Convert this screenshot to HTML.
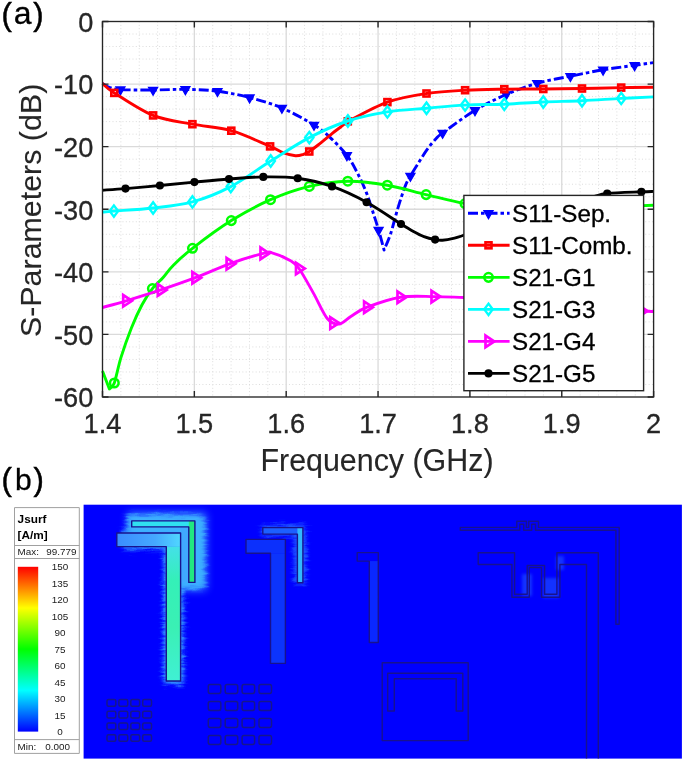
<!DOCTYPE html><html><head><meta charset="utf-8"><title>S-Parameters</title><style>html,body{margin:0;padding:0;background:#fff;width:685px;height:763px;overflow:hidden}svg{display:block;font-family:"Liberation Sans",sans-serif;filter:blur(0.45px)}</style></head><body><svg width="685" height="763" viewBox="0 0 685 763"><g stroke="#dcdcdc" stroke-width="1" stroke-dasharray="1 2.33" fill="none"><line x1="120.87" y1="21.5" x2="120.87" y2="397"/><line x1="139.24" y1="21.5" x2="139.24" y2="397"/><line x1="157.61" y1="21.5" x2="157.61" y2="397"/><line x1="175.98" y1="21.5" x2="175.98" y2="397"/><line x1="212.72" y1="21.5" x2="212.72" y2="397"/><line x1="231.09" y1="21.5" x2="231.09" y2="397"/><line x1="249.46" y1="21.5" x2="249.46" y2="397"/><line x1="267.83" y1="21.5" x2="267.83" y2="397"/><line x1="304.57" y1="21.5" x2="304.57" y2="397"/><line x1="322.94" y1="21.5" x2="322.94" y2="397"/><line x1="341.31" y1="21.5" x2="341.31" y2="397"/><line x1="359.68" y1="21.5" x2="359.68" y2="397"/><line x1="396.42" y1="21.5" x2="396.42" y2="397"/><line x1="414.79" y1="21.5" x2="414.79" y2="397"/><line x1="433.16" y1="21.5" x2="433.16" y2="397"/><line x1="451.53" y1="21.5" x2="451.53" y2="397"/><line x1="488.27" y1="21.5" x2="488.27" y2="397"/><line x1="506.64" y1="21.5" x2="506.64" y2="397"/><line x1="525.01" y1="21.5" x2="525.01" y2="397"/><line x1="543.38" y1="21.5" x2="543.38" y2="397"/><line x1="580.12" y1="21.5" x2="580.12" y2="397"/><line x1="598.49" y1="21.5" x2="598.49" y2="397"/><line x1="616.86" y1="21.5" x2="616.86" y2="397"/><line x1="635.23" y1="21.5" x2="635.23" y2="397"/><line x1="102.5" y1="34.02" x2="653.6" y2="34.02"/><line x1="102.5" y1="46.53" x2="653.6" y2="46.53"/><line x1="102.5" y1="59.05" x2="653.6" y2="59.05"/><line x1="102.5" y1="71.57" x2="653.6" y2="71.57"/><line x1="102.5" y1="96.6" x2="653.6" y2="96.6"/><line x1="102.5" y1="109.12" x2="653.6" y2="109.12"/><line x1="102.5" y1="121.63" x2="653.6" y2="121.63"/><line x1="102.5" y1="134.15" x2="653.6" y2="134.15"/><line x1="102.5" y1="159.18" x2="653.6" y2="159.18"/><line x1="102.5" y1="171.7" x2="653.6" y2="171.7"/><line x1="102.5" y1="184.22" x2="653.6" y2="184.22"/><line x1="102.5" y1="196.73" x2="653.6" y2="196.73"/><line x1="102.5" y1="221.77" x2="653.6" y2="221.77"/><line x1="102.5" y1="234.28" x2="653.6" y2="234.28"/><line x1="102.5" y1="246.8" x2="653.6" y2="246.8"/><line x1="102.5" y1="259.32" x2="653.6" y2="259.32"/><line x1="102.5" y1="284.35" x2="653.6" y2="284.35"/><line x1="102.5" y1="296.87" x2="653.6" y2="296.87"/><line x1="102.5" y1="309.38" x2="653.6" y2="309.38"/><line x1="102.5" y1="321.9" x2="653.6" y2="321.9"/><line x1="102.5" y1="346.93" x2="653.6" y2="346.93"/><line x1="102.5" y1="359.45" x2="653.6" y2="359.45"/><line x1="102.5" y1="371.97" x2="653.6" y2="371.97"/><line x1="102.5" y1="384.48" x2="653.6" y2="384.48"/></g><g stroke="#dadada" stroke-width="1.3" fill="none"><line x1="194.35" y1="21.5" x2="194.35" y2="397"/><line x1="102.5" y1="84.08" x2="653.6" y2="84.08"/><line x1="286.2" y1="21.5" x2="286.2" y2="397"/><line x1="102.5" y1="146.67" x2="653.6" y2="146.67"/><line x1="378.05" y1="21.5" x2="378.05" y2="397"/><line x1="102.5" y1="209.25" x2="653.6" y2="209.25"/><line x1="469.9" y1="21.5" x2="469.9" y2="397"/><line x1="102.5" y1="271.83" x2="653.6" y2="271.83"/><line x1="561.75" y1="21.5" x2="561.75" y2="397"/><line x1="102.5" y1="334.42" x2="653.6" y2="334.42"/></g><path d="M102.5,83.6 C103.75,84.25 107.02,86.5 110,87.5 C112.98,88.5 113.22,89.18 120.4,89.6 C127.58,90.02 142.27,90.03 153.1,90 C163.93,89.97 174.67,89.2 185.4,89.4 C196.13,89.6 206.8,89.83 217.5,91.2 C228.2,92.57 238.87,94.8 249.6,97.6 C260.33,100.4 271.17,103.43 281.9,108 C292.63,112.57 305.98,120.1 314,125 C322.02,129.9 324.52,132.35 330,137.4 C335.48,142.45 342.32,149.33 346.9,155.3 C351.48,161.27 354.2,166.85 357.5,173.2 C360.8,179.55 363.95,186.37 366.7,193.4 C369.45,200.43 372.02,209.28 374,215.4 C375.98,221.52 376.92,224.33 378.6,230.1 C380.28,235.87 383.18,246.68 384.1,250 L384.1,250 C385.18,247.3 388.3,240.78 390.6,233.8 C392.9,226.82 395.47,216.05 397.9,208.1 C400.33,200.15 403.12,191.45 405.2,186.1 C407.28,180.75 408.25,179.77 410.4,176 C412.55,172.23 415.3,167.93 418.1,163.5 C420.9,159.07 424.15,153.6 427.2,149.4 C430.25,145.2 433.83,141.03 436.4,138.3 C438.97,135.57 436.17,137.67 442.6,133 C449.03,128.33 464.4,116.72 475,110.3 C485.6,103.88 495.83,99.02 506.2,94.5 C516.57,89.98 526.5,86.25 537.2,83.2 C547.9,80.15 559.42,78.43 570.4,76.2 C581.38,73.97 592.4,71.62 603.1,69.8 C613.8,67.98 626.18,66.5 634.6,65.3 C643.02,64.1 650.43,63.05 653.6,62.6" fill="none" stroke="#0000ff" stroke-width="2.9" stroke-linejoin="round" stroke-dasharray="10 3 3.5 3"/><path d="M115.8,86.9 L125,86.9 L120.4,95 Z" fill="#0000ff" stroke="#0000ff" stroke-width="1.2" stroke-linejoin="miter"/><path d="M148.5,87.3 L157.7,87.3 L153.1,95.4 Z" fill="#0000ff" stroke="#0000ff" stroke-width="1.2" stroke-linejoin="miter"/><path d="M180.8,86.7 L190,86.7 L185.4,94.8 Z" fill="#0000ff" stroke="#0000ff" stroke-width="1.2" stroke-linejoin="miter"/><path d="M212.9,88.5 L222.1,88.5 L217.5,96.6 Z" fill="#0000ff" stroke="#0000ff" stroke-width="1.2" stroke-linejoin="miter"/><path d="M245,94.9 L254.2,94.9 L249.6,103 Z" fill="#0000ff" stroke="#0000ff" stroke-width="1.2" stroke-linejoin="miter"/><path d="M277.3,105.3 L286.5,105.3 L281.9,113.4 Z" fill="#0000ff" stroke="#0000ff" stroke-width="1.2" stroke-linejoin="miter"/><path d="M309.4,122.3 L318.6,122.3 L314,130.4 Z" fill="#0000ff" stroke="#0000ff" stroke-width="1.2" stroke-linejoin="miter"/><path d="M342.3,152.6 L351.5,152.6 L346.9,160.7 Z" fill="#0000ff" stroke="#0000ff" stroke-width="1.2" stroke-linejoin="miter"/><path d="M374,227.4 L383.2,227.4 L378.6,235.5 Z" fill="#0000ff" stroke="#0000ff" stroke-width="1.2" stroke-linejoin="miter"/><path d="M405.8,173.3 L415,173.3 L410.4,181.4 Z" fill="#0000ff" stroke="#0000ff" stroke-width="1.2" stroke-linejoin="miter"/><path d="M438,130.3 L447.2,130.3 L442.6,138.4 Z" fill="#0000ff" stroke="#0000ff" stroke-width="1.2" stroke-linejoin="miter"/><path d="M470.4,107.6 L479.6,107.6 L475,115.7 Z" fill="#0000ff" stroke="#0000ff" stroke-width="1.2" stroke-linejoin="miter"/><path d="M501.6,91.8 L510.8,91.8 L506.2,99.9 Z" fill="#0000ff" stroke="#0000ff" stroke-width="1.2" stroke-linejoin="miter"/><path d="M532.6,80.5 L541.8,80.5 L537.2,88.6 Z" fill="#0000ff" stroke="#0000ff" stroke-width="1.2" stroke-linejoin="miter"/><path d="M565.8,73.5 L575,73.5 L570.4,81.6 Z" fill="#0000ff" stroke="#0000ff" stroke-width="1.2" stroke-linejoin="miter"/><path d="M598.5,67.1 L607.7,67.1 L603.1,75.2 Z" fill="#0000ff" stroke="#0000ff" stroke-width="1.2" stroke-linejoin="miter"/><path d="M630,62.6 L639.2,62.6 L634.6,70.7 Z" fill="#0000ff" stroke="#0000ff" stroke-width="1.2" stroke-linejoin="miter"/><path d="M102.5,83.5 C104.47,85.07 105.87,87.58 114.3,92.9 C122.73,98.22 140.08,110.18 153.1,115.4 C166.12,120.62 179.37,121.65 192.4,124.2 C205.43,126.75 218.35,127 231.3,130.7 C244.25,134.4 261.48,142.75 270.1,146.4 C278.72,150.05 278.78,151.05 283,152.6 C287.22,154.15 291.98,155.42 295.4,155.7 C298.82,155.98 301.18,155 303.5,154.3 C305.82,153.6 306.87,153.05 309.3,151.5 C311.73,149.95 314.82,147.55 318.1,145 C321.38,142.45 326.02,138.62 329,136.2 C331.98,133.78 333.75,132.27 336,130.5 C338.25,128.73 340.53,127.08 342.5,125.6 C344.47,124.12 340.32,125.52 347.8,121.6 C355.28,117.68 374.28,106.78 387.4,102.1 C400.52,97.42 413.55,95.48 426.5,93.5 C439.45,91.52 452.13,90.92 465.1,90.2 C478.07,89.48 491.27,89.4 504.3,89.2 C517.33,89 530.35,89.12 543.3,89 C556.25,88.88 569.02,88.73 582,88.5 C594.98,88.27 609.27,87.8 621.2,87.6 C633.13,87.4 648.2,87.35 653.6,87.3" fill="none" stroke="#ff0000" stroke-width="2.9" stroke-linejoin="round"/><rect x="111.3" y="89.9" width="6" height="6" fill="none" stroke="#ff0000" stroke-width="2.6"/><rect x="150.1" y="112.4" width="6" height="6" fill="none" stroke="#ff0000" stroke-width="2.6"/><rect x="189.4" y="121.2" width="6" height="6" fill="none" stroke="#ff0000" stroke-width="2.6"/><rect x="228.3" y="127.7" width="6" height="6" fill="none" stroke="#ff0000" stroke-width="2.6"/><rect x="267.1" y="143.4" width="6" height="6" fill="none" stroke="#ff0000" stroke-width="2.6"/><rect x="306.3" y="148.5" width="6" height="6" fill="none" stroke="#ff0000" stroke-width="2.6"/><rect x="344.8" y="118.3" width="6" height="6" fill="none" stroke="#ff0000" stroke-width="2.6"/><rect x="384.4" y="99.1" width="6" height="6" fill="none" stroke="#ff0000" stroke-width="2.6"/><rect x="423.5" y="90.5" width="6" height="6" fill="none" stroke="#ff0000" stroke-width="2.6"/><rect x="462.1" y="87.2" width="6" height="6" fill="none" stroke="#ff0000" stroke-width="2.6"/><rect x="501.3" y="86.2" width="6" height="6" fill="none" stroke="#ff0000" stroke-width="2.6"/><rect x="540.3" y="86" width="6" height="6" fill="none" stroke="#ff0000" stroke-width="2.6"/><rect x="579" y="85.5" width="6" height="6" fill="none" stroke="#ff0000" stroke-width="2.6"/><rect x="618.2" y="84.6" width="6" height="6" fill="none" stroke="#ff0000" stroke-width="2.6"/><path d="M102.5,371 C103.65,374 108.25,386 109.4,389 L109.4,389 C110.22,388 112.37,388.27 114.3,383 C116.23,377.73 118.15,366.57 121,357.4 C123.85,348.23 127.92,336.73 131.4,328 C134.88,319.27 138.4,311.57 141.9,305 C145.4,298.43 148.9,293.15 152.4,288.6 C155.9,284.05 159.4,281.6 162.9,277.7 C166.4,273.8 168.47,270.1 173.4,265.2 C178.33,260.3 182.85,255.73 192.5,248.3 C202.15,240.87 218.3,228.7 231.3,220.6 C244.3,212.5 257.5,205.4 270.5,199.7 C283.5,194 296.42,189.48 309.3,186.4 C322.18,183.32 334.8,181.4 347.8,181.2 C360.8,181 374.25,182.97 387.3,185.2 C400.35,187.43 413.15,191.53 426.1,194.6 C439.05,197.67 452.02,201.37 465,203.6 C477.98,205.83 491,207.1 504,208 C517,208.9 530,209 543,209 C556,209 569,208.42 582,208 C595,207.58 609.07,206.95 621,206.5 C632.93,206.05 648.17,205.5 653.6,205.3" fill="none" stroke="#00ff00" stroke-width="2.9" stroke-linejoin="round"/><circle cx="114.3" cy="383" r="4.3" fill="none" stroke="#00ff00" stroke-width="2.5"/><circle cx="152.4" cy="288.6" r="4.3" fill="none" stroke="#00ff00" stroke-width="2.5"/><circle cx="192.5" cy="248.3" r="4.3" fill="none" stroke="#00ff00" stroke-width="2.5"/><circle cx="231.3" cy="220.6" r="4.3" fill="none" stroke="#00ff00" stroke-width="2.5"/><circle cx="270.5" cy="199.7" r="4.3" fill="none" stroke="#00ff00" stroke-width="2.5"/><circle cx="309.3" cy="186.4" r="4.3" fill="none" stroke="#00ff00" stroke-width="2.5"/><circle cx="347.8" cy="181.2" r="4.3" fill="none" stroke="#00ff00" stroke-width="2.5"/><circle cx="387.3" cy="185.2" r="4.3" fill="none" stroke="#00ff00" stroke-width="2.5"/><circle cx="426.1" cy="194.6" r="4.3" fill="none" stroke="#00ff00" stroke-width="2.5"/><circle cx="465" cy="203.6" r="4.3" fill="none" stroke="#00ff00" stroke-width="2.5"/><circle cx="621" cy="206.5" r="4.3" fill="none" stroke="#00ff00" stroke-width="2.5"/><path d="M102.5,212.1 C104.4,211.93 105.47,211.78 113.9,211.1 C122.33,210.42 140.02,209.53 153.1,208 C166.18,206.47 179.45,205.47 192.4,201.9 C205.35,198.33 217.75,193.42 230.8,186.6 C243.85,179.78 257.62,169.17 270.7,161 C283.78,152.83 296.43,144.27 309.3,137.6 C322.17,130.93 334.88,125.28 347.9,121 C360.92,116.72 374.3,114.03 387.4,111.9 C400.5,109.77 413.55,109.33 426.5,108.2 C439.45,107.07 452.13,105.77 465.1,105.1 C478.07,104.43 491.27,104.72 504.3,104.2 C517.33,103.68 530.35,102.58 543.3,102 C556.25,101.42 569.02,101.3 582,100.7 C594.98,100.1 609.27,99.03 621.2,98.4 C633.13,97.77 648.2,97.15 653.6,96.9" fill="none" stroke="#00ffff" stroke-width="2.9" stroke-linejoin="round"/><path d="M113.9,205.4 L118.1,211.1 L113.9,216.8 L109.7,211.1 Z" fill="none" stroke="#00ffff" stroke-width="2.4"/><path d="M153.1,202.3 L157.3,208 L153.1,213.7 L148.9,208 Z" fill="none" stroke="#00ffff" stroke-width="2.4"/><path d="M192.4,196.2 L196.6,201.9 L192.4,207.6 L188.2,201.9 Z" fill="none" stroke="#00ffff" stroke-width="2.4"/><path d="M230.8,180.9 L235,186.6 L230.8,192.3 L226.6,186.6 Z" fill="none" stroke="#00ffff" stroke-width="2.4"/><path d="M270.7,155.3 L274.9,161 L270.7,166.7 L266.5,161 Z" fill="none" stroke="#00ffff" stroke-width="2.4"/><path d="M309.3,131.9 L313.5,137.6 L309.3,143.3 L305.1,137.6 Z" fill="none" stroke="#00ffff" stroke-width="2.4"/><path d="M347.9,115.3 L352.1,121 L347.9,126.7 L343.7,121 Z" fill="none" stroke="#00ffff" stroke-width="2.4"/><path d="M387.4,106.2 L391.6,111.9 L387.4,117.6 L383.2,111.9 Z" fill="none" stroke="#00ffff" stroke-width="2.4"/><path d="M426.5,102.5 L430.7,108.2 L426.5,113.9 L422.3,108.2 Z" fill="none" stroke="#00ffff" stroke-width="2.4"/><path d="M465.1,99.4 L469.3,105.1 L465.1,110.8 L460.9,105.1 Z" fill="none" stroke="#00ffff" stroke-width="2.4"/><path d="M504.3,98.5 L508.5,104.2 L504.3,109.9 L500.1,104.2 Z" fill="none" stroke="#00ffff" stroke-width="2.4"/><path d="M543.3,96.3 L547.5,102 L543.3,107.7 L539.1,102 Z" fill="none" stroke="#00ffff" stroke-width="2.4"/><path d="M582,95 L586.2,100.7 L582,106.4 L577.8,100.7 Z" fill="none" stroke="#00ffff" stroke-width="2.4"/><path d="M621.2,92.7 L625.4,98.4 L621.2,104.1 L617,98.4 Z" fill="none" stroke="#00ffff" stroke-width="2.4"/><path d="M102.5,307.5 C106.45,306.38 116.48,303.73 126.2,300.8 C135.92,297.87 149.27,293.75 160.8,289.9 C172.33,286.05 183.93,282.05 195.4,277.7 C206.87,273.35 218.25,267.85 229.6,263.8 C240.95,259.75 256.43,255.23 263.5,253.4 C270.57,251.57 267.57,251.63 272,252.8 C276.43,253.97 285.6,257.78 290.1,260.4 C294.6,263.02 295.12,263.05 299,268.5 C302.88,273.95 308.65,284.72 313.4,293.1 C318.15,301.48 323.22,313.65 327.5,318.8 C331.78,323.95 335.22,324.4 339.1,324 C342.98,323.6 346.13,319.2 350.8,316.4 C355.47,313.6 358.82,310.4 367.1,307.2 C375.38,304 389.27,298.97 400.5,297.2 C411.73,295.43 424.02,296.55 434.5,296.6 C444.98,296.65 451.98,297.1 463.4,297.5 C474.82,297.9 490.57,298.42 503,299 C515.43,299.58 526.33,300.17 538,301 C549.67,301.83 561.5,302.83 573,304 C584.5,305.17 595.55,306.83 607,308 C618.45,309.17 633.93,310.42 641.7,311 C649.47,311.58 651.62,311.42 653.6,311.5" fill="none" stroke="#ff00ff" stroke-width="2.9" stroke-linejoin="round"/><path d="M123.2,295 L123.2,306.6 L132,300.8 Z" fill="none" stroke="#ff00ff" stroke-width="2.7" stroke-linejoin="miter"/><path d="M157.8,284.1 L157.8,295.7 L166.6,289.9 Z" fill="none" stroke="#ff00ff" stroke-width="2.7" stroke-linejoin="miter"/><path d="M192.4,271.9 L192.4,283.5 L201.2,277.7 Z" fill="none" stroke="#ff00ff" stroke-width="2.7" stroke-linejoin="miter"/><path d="M226.6,258 L226.6,269.6 L235.4,263.8 Z" fill="none" stroke="#ff00ff" stroke-width="2.7" stroke-linejoin="miter"/><path d="M260.5,247.6 L260.5,259.2 L269.3,253.4 Z" fill="none" stroke="#ff00ff" stroke-width="2.7" stroke-linejoin="miter"/><path d="M296,262.7 L296,274.3 L304.8,268.5 Z" fill="none" stroke="#ff00ff" stroke-width="2.7" stroke-linejoin="miter"/><path d="M330.3,317.2 L330.3,328.8 L339.1,323 Z" fill="none" stroke="#ff00ff" stroke-width="2.7" stroke-linejoin="miter"/><path d="M364.1,301.4 L364.1,313 L372.9,307.2 Z" fill="none" stroke="#ff00ff" stroke-width="2.7" stroke-linejoin="miter"/><path d="M397.5,291.4 L397.5,303 L406.3,297.2 Z" fill="none" stroke="#ff00ff" stroke-width="2.7" stroke-linejoin="miter"/><path d="M431.5,290.8 L431.5,302.4 L440.3,296.6 Z" fill="none" stroke="#ff00ff" stroke-width="2.7" stroke-linejoin="miter"/><path d="M638.7,305.2 L638.7,316.8 L647.5,311 Z" fill="none" stroke="#ff00ff" stroke-width="2.7" stroke-linejoin="miter"/><path d="M102.5,190.2 C106.33,189.93 115.93,189.38 125.5,188.6 C135.07,187.82 148.42,186.58 159.9,185.5 C171.38,184.42 182.88,183.18 194.4,182.1 C205.92,181.02 217.52,179.87 229,179 C240.48,178.13 251.85,177.03 263.3,176.9 C274.75,176.77 286.25,176.62 297.7,178.2 C309.15,179.78 320.52,182.4 332,186.4 C343.48,190.4 355.1,195.93 366.6,202.2 C378.1,208.47 393.27,219.17 401,224 C408.73,228.83 409.17,229.1 413,231.2 C416.83,233.3 420.32,235.2 424,236.6 C427.68,238 432.03,239 435.1,239.6 C438.17,240.2 439.35,240.4 442.4,240.2 C445.45,240 449.77,239.27 453.4,238.4 C457.03,237.53 459.77,236.57 464.2,235 C468.63,233.43 473.37,231.5 480,229 C486.63,226.5 494.33,223.5 504,220 C513.67,216.5 526.53,211.25 538,208 C549.47,204.75 563.8,202.33 572.8,200.5 C581.8,198.67 586.27,198.17 592,197 C597.73,195.83 598.97,194.37 607.2,193.5 C615.43,192.63 633.67,192.15 641.4,191.8 C649.13,191.45 651.57,191.47 653.6,191.4" fill="none" stroke="#000000" stroke-width="2.9" stroke-linejoin="round"/><circle cx="125.5" cy="188.6" r="4.05" fill="#000000"/><circle cx="159.9" cy="185.5" r="4.05" fill="#000000"/><circle cx="194.4" cy="182.1" r="4.05" fill="#000000"/><circle cx="229" cy="179" r="4.05" fill="#000000"/><circle cx="263.3" cy="176.9" r="4.05" fill="#000000"/><circle cx="297.7" cy="178.2" r="4.05" fill="#000000"/><circle cx="332" cy="186.4" r="4.05" fill="#000000"/><circle cx="366.6" cy="202.2" r="4.05" fill="#000000"/><circle cx="401" cy="224" r="4.05" fill="#000000"/><circle cx="435.1" cy="239.6" r="4.05" fill="#000000"/><circle cx="607.2" cy="193.5" r="4.05" fill="#000000"/><circle cx="641.4" cy="191.8" r="4.05" fill="#000000"/><path d="M102.5,397V391M102.5,21.5V27.5M102.5,21.5H108.5M653.6,21.5H647.6M194.35,397V391M194.35,21.5V27.5M102.5,84.08H108.5M653.6,84.08H647.6M286.2,397V391M286.2,21.5V27.5M102.5,146.67H108.5M653.6,146.67H647.6M378.05,397V391M378.05,21.5V27.5M102.5,209.25H108.5M653.6,209.25H647.6M469.9,397V391M469.9,21.5V27.5M102.5,271.83H108.5M653.6,271.83H647.6M561.75,397V391M561.75,21.5V27.5M102.5,334.42H108.5M653.6,334.42H647.6M653.6,397V391M653.6,21.5V27.5M102.5,397H108.5M653.6,397H647.6" stroke="#262626" stroke-width="1.4" fill="none"/><rect x="102.5" y="21.5" width="551.1" height="375.5" fill="none" stroke="#262626" stroke-width="1.35"/><g font-family="Liberation Sans, sans-serif" font-size="27.2" fill="#262626" stroke="#262626" stroke-width="0.3"><text transform="translate(93.3,31.8) scale(1,1.04)" text-anchor="end">0</text><text transform="translate(93.3,94.38) scale(1,1.04)" text-anchor="end">-10</text><text transform="translate(93.3,156.97) scale(1,1.04)" text-anchor="end">-20</text><text transform="translate(93.3,219.55) scale(1,1.04)" text-anchor="end">-30</text><text transform="translate(93.3,282.13) scale(1,1.04)" text-anchor="end">-40</text><text transform="translate(93.3,344.72) scale(1,1.04)" text-anchor="end">-50</text><text transform="translate(93.3,407.3) scale(1,1.04)" text-anchor="end">-60</text><text transform="translate(102.5,432.6) scale(1,1.04)" text-anchor="middle">1.4</text><text transform="translate(194.35,432.6) scale(1,1.04)" text-anchor="middle">1.5</text><text transform="translate(286.2,432.6) scale(1,1.04)" text-anchor="middle">1.6</text><text transform="translate(378.05,432.6) scale(1,1.04)" text-anchor="middle">1.7</text><text transform="translate(469.9,432.6) scale(1,1.04)" text-anchor="middle">1.8</text><text transform="translate(561.75,432.6) scale(1,1.04)" text-anchor="middle">1.9</text><text transform="translate(653.6,432.6) scale(1,1.04)" text-anchor="middle">2</text></g><text transform="translate(377,470.6) scale(1,1.04)" text-anchor="middle" font-family="Liberation Sans, sans-serif" font-size="30.4" fill="#262626" stroke="#262626" stroke-width="0.12">Frequency (GHz)</text><text transform="translate(41.4,210.4) rotate(-90)" x="0" y="0" text-anchor="middle" font-family="Liberation Sans, sans-serif" font-size="30.4" fill="#262626" stroke="#262626" stroke-width="0.12">S-Parameters (dB)</text><rect x="463.9" y="195.4" width="179.7" height="195.3" fill="#ffffff" stroke="#262626" stroke-width="1.4"/><path d="M468,213.3H509.6" stroke="#0000ff" stroke-width="2.9" stroke-dasharray="10 3 3.5 3" fill="none"/><path d="M483.9,210.6 L493.1,210.6 L488.5,218.7 Z" fill="#0000ff" stroke="#0000ff" stroke-width="1.2" stroke-linejoin="miter"/><text x="512" y="222.2" font-family="Liberation Sans, sans-serif" font-size="24.2" fill="#000" stroke="#000" stroke-width="0.3">S11-Sep.</text><path d="M468,245.32H509.6" stroke="#ff0000" stroke-width="2.9" fill="none"/><rect x="485.5" y="242.32" width="6" height="6" fill="none" stroke="#ff0000" stroke-width="2.6"/><text x="512" y="254.22" font-family="Liberation Sans, sans-serif" font-size="24.2" fill="#000" stroke="#000" stroke-width="0.3">S11-Comb.</text><path d="M468,277.34H509.6" stroke="#00ff00" stroke-width="2.9" fill="none"/><circle cx="488.5" cy="277.34" r="4.3" fill="none" stroke="#00ff00" stroke-width="2.5"/><text x="512" y="286.24" font-family="Liberation Sans, sans-serif" font-size="24.2" fill="#000" stroke="#000" stroke-width="0.3">S21-G1</text><path d="M468,309.36H509.6" stroke="#00ffff" stroke-width="2.9" fill="none"/><path d="M488.5,303.66 L492.7,309.36 L488.5,315.06 L484.3,309.36 Z" fill="none" stroke="#00ffff" stroke-width="2.4"/><text x="512" y="318.26" font-family="Liberation Sans, sans-serif" font-size="24.2" fill="#000" stroke="#000" stroke-width="0.3">S21-G3</text><path d="M468,341.38H509.6" stroke="#ff00ff" stroke-width="2.9" fill="none"/><path d="M485.5,335.58 L485.5,347.18 L494.3,341.38 Z" fill="none" stroke="#ff00ff" stroke-width="2.7" stroke-linejoin="miter"/><text x="512" y="350.28" font-family="Liberation Sans, sans-serif" font-size="24.2" fill="#000" stroke="#000" stroke-width="0.3">S21-G4</text><path d="M468,373.4H509.6" stroke="#000000" stroke-width="2.9" fill="none"/><circle cx="488.5" cy="373.4" r="4.05" fill="#000000"/><text x="512" y="382.3" font-family="Liberation Sans, sans-serif" font-size="24.2" fill="#000" stroke="#000" stroke-width="0.3">S21-G5</text><text x="1.4" y="25.2" font-size="31" stroke="#000" stroke-width="0.5" font-family="Liberation Sans, sans-serif" fill="#000">(</text><text x="13.8" y="24.2" font-size="32" stroke="#000" stroke-width="0.3" font-family="Liberation Sans, sans-serif" fill="#000">a</text><text x="33.2" y="25.2" font-size="31" stroke="#000" stroke-width="0.5" font-family="Liberation Sans, sans-serif" fill="#000">)</text><text x="1.4" y="489.9" font-size="31" stroke="#000" stroke-width="0.5" font-family="Liberation Sans, sans-serif" fill="#000">(</text><text x="15.1" y="489.6" font-size="30" stroke="#000" stroke-width="0.3" font-family="Liberation Sans, sans-serif" fill="#000">b</text><text x="33.6" y="489.9" font-size="31" stroke="#000" stroke-width="0.5" font-family="Liberation Sans, sans-serif" fill="#000">)</text><rect x="83.6" y="504.7" width="598.3" height="253.9" fill="#0000ff"/><defs><filter id="bl" x="-50%" y="-50%" width="200%" height="200%"><feGaussianBlur stdDeviation="4"/></filter><filter id="sp" x="-40%" y="-20%" width="180%" height="140%"><feGaussianBlur in="SourceGraphic" stdDeviation="2.2" result="b"/><feTurbulence type="fractalNoise" baseFrequency="0.08 0.45" numOctaves="2" seed="7" result="n"/><feDisplacementMap in="b" in2="n" scale="9" xChannelSelector="R" yChannelSelector="G"/></filter><filter id="bl2" x="-50%" y="-50%" width="200%" height="200%"><feGaussianBlur stdDeviation="1.8"/></filter><linearGradient id="cb" x1="0" y1="0" x2="0" y2="1"><stop offset="0" stop-color="#ff0000"/><stop offset="0.25" stop-color="#ffff00"/><stop offset="0.5" stop-color="#00ff00"/><stop offset="0.75" stop-color="#00ffff"/><stop offset="1" stop-color="#0000ff"/></linearGradient></defs><linearGradient id="vb" x1="0" y1="0" x2="0" y2="1"><stop offset="0" stop-color="#44e0e8"/><stop offset="0.25" stop-color="#34f0b8"/><stop offset="0.6" stop-color="#3af0b4"/><stop offset="1" stop-color="#40f0d4"/></linearGradient><linearGradient id="hb" x1="0" y1="0" x2="1" y2="0"><stop offset="0" stop-color="#3a8cff"/><stop offset="0.6" stop-color="#45a8ff"/><stop offset="1" stop-color="#50d8ff"/></linearGradient><g filter="url(#bl)" fill="#48b0ff" opacity="0.8"><rect x="128" y="513" width="78" height="24"/><rect x="178" y="518" width="28" height="72"/></g><g filter="url(#sp)" fill="#40c0ff" opacity="0.75"><rect x="163.5" y="543" width="20" height="141"/><rect x="122" y="530" width="62" height="19"/><rect x="127" y="515" width="72" height="16"/><rect x="183" y="518" width="22" height="70"/></g><rect x="116.8" y="533" width="63.8" height="13.6" fill="url(#hb)"/><rect x="166.3" y="546.6" width="14.3" height="134.4" fill="url(#vb)"/><rect x="180.6" y="527" width="8.2" height="55" fill="#40a8ff" opacity="0.9"/><rect x="131.7" y="520.9" width="63.2" height="6" fill="#30e0f0"/><rect x="188.8" y="520.9" width="6.1" height="61.5" fill="#22e880"/><g filter="url(#sp)" fill="#3090ff" opacity="0.6"><rect x="262" y="525" width="44" height="11"/><rect x="294" y="526" width="12" height="58"/></g><rect x="246" y="539.4" width="39.4" height="13.8" fill="#0c30fc"/><rect x="270.5" y="553.2" width="14.9" height="110.2" fill="#0c34fc"/><rect x="262.8" y="527.6" width="40.1" height="6.5" fill="#1c60ff"/><rect x="297.4" y="527.6" width="5.5" height="55.1" fill="#30b8ff"/><rect x="369.3" y="561.1" width="9" height="81.4" fill="#0a28ff"/><g filter="url(#bl2)" fill="#2a70ff" opacity="0.45"><rect x="522" y="574" width="10" height="22"/><rect x="543" y="578" width="16" height="20"/><rect x="556" y="556" width="8" height="14"/></g><g fill="none" stroke="#16168c" stroke-width="1.5"><rect x="107" y="699.6" width="8.8" height="6.6" rx="1.5"/><rect x="118.9" y="699.6" width="8.8" height="6.6" rx="1.5"/><rect x="130.8" y="699.6" width="8.8" height="6.6" rx="1.5"/><rect x="142.7" y="699.6" width="8.8" height="6.6" rx="1.5"/><rect x="107" y="711.3" width="8.8" height="6.6" rx="1.5"/><rect x="118.9" y="711.3" width="8.8" height="6.6" rx="1.5"/><rect x="130.8" y="711.3" width="8.8" height="6.6" rx="1.5"/><rect x="142.7" y="711.3" width="8.8" height="6.6" rx="1.5"/><rect x="107" y="723" width="8.8" height="6.6" rx="1.5"/><rect x="118.9" y="723" width="8.8" height="6.6" rx="1.5"/><rect x="130.8" y="723" width="8.8" height="6.6" rx="1.5"/><rect x="142.7" y="723" width="8.8" height="6.6" rx="1.5"/><rect x="107" y="734.7" width="8.8" height="6.6" rx="1.5"/><rect x="118.9" y="734.7" width="8.8" height="6.6" rx="1.5"/><rect x="130.8" y="734.7" width="8.8" height="6.6" rx="1.5"/><rect x="142.7" y="734.7" width="8.8" height="6.6" rx="1.5"/><rect x="208.3" y="684.6" width="12.5" height="8.8" rx="1.8"/><rect x="225.2" y="684.6" width="12.5" height="8.8" rx="1.8"/><rect x="242.1" y="684.6" width="12.5" height="8.8" rx="1.8"/><rect x="259" y="684.6" width="12.5" height="8.8" rx="1.8"/><rect x="208.3" y="701.6" width="12.5" height="8.8" rx="1.8"/><rect x="225.2" y="701.6" width="12.5" height="8.8" rx="1.8"/><rect x="242.1" y="701.6" width="12.5" height="8.8" rx="1.8"/><rect x="259" y="701.6" width="12.5" height="8.8" rx="1.8"/><rect x="208.3" y="718.6" width="12.5" height="8.8" rx="1.8"/><rect x="225.2" y="718.6" width="12.5" height="8.8" rx="1.8"/><rect x="242.1" y="718.6" width="12.5" height="8.8" rx="1.8"/><rect x="259" y="718.6" width="12.5" height="8.8" rx="1.8"/><rect x="208.3" y="735.6" width="12.5" height="8.8" rx="1.8"/><rect x="225.2" y="735.6" width="12.5" height="8.8" rx="1.8"/><rect x="242.1" y="735.6" width="12.5" height="8.8" rx="1.8"/><rect x="259" y="735.6" width="12.5" height="8.8" rx="1.8"/></g><path d="M116.8,533H180.6V681H166.3V546.6H116.8ZM131.7,520.9H194.9V582.4H188.8V526.9H131.7ZM246,539.4H285.4V663.4H270.5V553.2H246ZM262.8,527.6H302.9V582.7H297.4V534.1H262.8ZM357.2,552.6H378.3V642.5H369.3V561.1H357.2ZM382.2,662.8H468.2V740.6H382.2ZM387.7,673.3H462.8V711H456.2V678.8H394.3V711H387.7ZM598.3,758.6V552.7H556.9V594.2H544.6V565.5H527.2V594.2H514.6V552.7H478.2V564.5H511.9V597.2H529.3V567.6H541.5V597.2H559.9V564.5H586.5V758.6M460.3,527.4H516.8V521.2H526.4V527.4H528.7V521.2H538.5V527.4H619.2V624.3H615.9V530.3H535.5V524.2H531.7V530.3H523.7V524.2H519.8V530.3H460.3Z" fill="none" stroke="#18128e" stroke-width="1.4" stroke-linejoin="round"/><rect x="14.3" y="507.6" width="65.1" height="146.1" fill="none"/><path d="M14.5,507.6H79.3V753.4H14.5Z M14.5,545.5H79.3 M14.5,558.5H79.3 M14.5,739.6H79.3" fill="none" stroke="#a0a0a0" stroke-width="1"/><rect x="17.8" y="566.8" width="20.4" height="164.8" fill="url(#cb)"/><text x="17.6" y="522.7" font-family="Liberation Sans, sans-serif" font-size="11.8" font-weight="bold" fill="#000">Jsurf</text><text x="17.6" y="538.8" font-family="Liberation Sans, sans-serif" font-size="11.8" font-weight="bold" fill="#000">[A/m]</text><text x="17.6" y="555" font-family="Liberation Sans, sans-serif" font-size="9.9" fill="#202020">Max:</text><text x="76.5" y="555" text-anchor="end" font-family="Liberation Sans, sans-serif" font-size="9.9" fill="#202020">99.779</text><text x="17.6" y="750" font-family="Liberation Sans, sans-serif" font-size="9.9" fill="#202020">Min:</text><text x="70" y="750" text-anchor="end" font-family="Liberation Sans, sans-serif" font-size="9.9" fill="#202020">0.000</text><text x="60" y="570.2" text-anchor="middle" font-family="Liberation Sans, sans-serif" font-size="9.9" fill="#202020">150</text><text x="60" y="586.7" text-anchor="middle" font-family="Liberation Sans, sans-serif" font-size="9.9" fill="#202020">135</text><text x="60" y="603.2" text-anchor="middle" font-family="Liberation Sans, sans-serif" font-size="9.9" fill="#202020">120</text><text x="60" y="619.7" text-anchor="middle" font-family="Liberation Sans, sans-serif" font-size="9.9" fill="#202020">105</text><text x="60" y="636.2" text-anchor="middle" font-family="Liberation Sans, sans-serif" font-size="9.9" fill="#202020">90</text><text x="60" y="652.7" text-anchor="middle" font-family="Liberation Sans, sans-serif" font-size="9.9" fill="#202020">75</text><text x="60" y="669.2" text-anchor="middle" font-family="Liberation Sans, sans-serif" font-size="9.9" fill="#202020">60</text><text x="60" y="685.7" text-anchor="middle" font-family="Liberation Sans, sans-serif" font-size="9.9" fill="#202020">45</text><text x="60" y="702.2" text-anchor="middle" font-family="Liberation Sans, sans-serif" font-size="9.9" fill="#202020">30</text><text x="60" y="718.7" text-anchor="middle" font-family="Liberation Sans, sans-serif" font-size="9.9" fill="#202020">15</text><text x="60" y="735.2" text-anchor="middle" font-family="Liberation Sans, sans-serif" font-size="9.9" fill="#202020">0</text></svg></body></html>
